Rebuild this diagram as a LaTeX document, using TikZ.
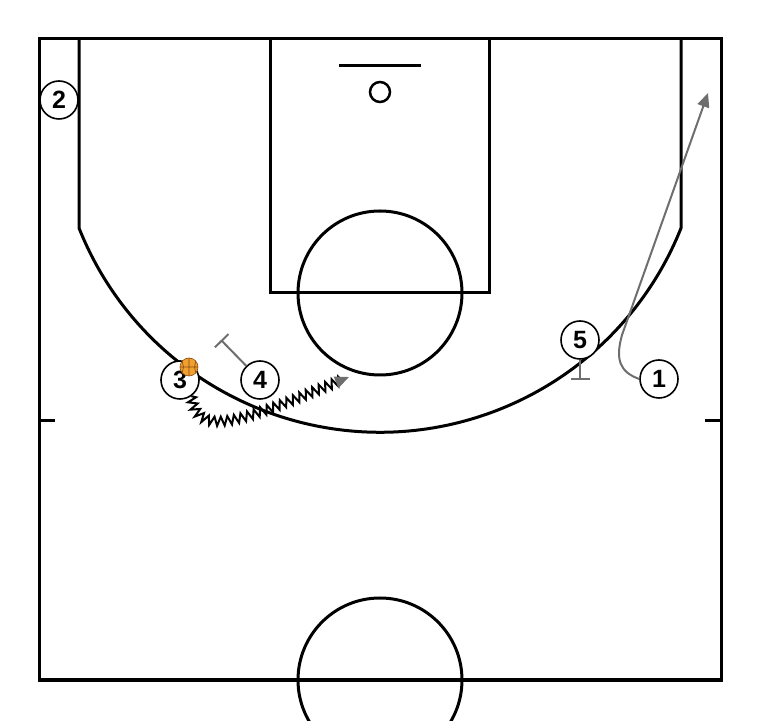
\documentclass[tikz,border=0pt]{standalone}
\usepackage{fontspec}
\setmainfont{Liberation Sans}
\usetikzlibrary{arrows.meta,decorations.pathmorphing}
\definecolor{pathgray}{HTML}{6E6E6E}
\definecolor{ballorange}{HTML}{F0A030}
\definecolor{ballseam}{HTML}{8A4A10}
\tikzset{
	court/.style={line width=3pt},
	player/.style={circle,draw,line width=1.6pt,fill=white,minimum size=38pt,inner sep=0pt,font=\bfseries\fontsize{25}{25}\selectfont},
	move/.style={draw=pathgray,line width=2pt,-{Triangle[length=14pt,width=12pt]}},
	screen/.style={draw=pathgray,line width=2pt,-{Bar[width=19pt,line width=2pt]}},
	dribble/.style={line width=2pt,decorate,decoration={zigzag,amplitude=4.5pt,segment length=7pt,post=lineto,post length=8pt},-{Triangle[length=14pt,width=12pt,color=pathgray]}},
	ball/.style={circle,draw=ballseam,fill=ballorange,minimum size=18pt,inner sep=0pt,line width=0.6pt,
		path picture={\draw[ballseam,line width=0.7pt] (path picture bounding box.north) -- (path picture bounding box.south)
			(path picture bounding box.north west) to[bend left=40] (path picture bounding box.south west)
			(path picture bounding box.north east) to[bend right=40] (path picture bounding box.south east)
			(path picture bounding box.west) -- (path picture bounding box.east);}}
}
\begin{document}
\begin{tikzpicture}[x=1pt,y=1pt]
	\clip (0,0) rectangle (760,720);
	% court
	\draw[court] (39,40) rectangle (721,681);
	\draw[court] (79,681) -- (79,492) arc[start angle=201.7,end angle=338.3,radius=324] -- (681,681);
	\draw[court] (270,681) rectangle (489,427);
	\draw[court] (380,427) circle (82);
	\draw[court] (339,654) -- (421,654);
	\draw[line width=2.5pt] (380,628) circle (10);
	\draw[court] (39,299) -- (55,299);
	\draw[court] (705,299) -- (721,299);
	\draw[court] (380,40) circle (82);
	% players
	\node[player] (p1) at (659,341) {1};
	\node[player] (p2) at (59,620) {2};
	\node[player] (p3) at (180,340) {3};
	\node[player] (p4) at (260,340) {4};
	\node[player] (p5) at (580,380) {5};
	\node[ball] (ball) at (189,353) {};
	% screens
	\coordinate (s4) at (221,380);
	\coordinate (s5) at (580,340);
	\draw[screen] (p4) -- (s4);
	\draw[screen] (p5) -- (s5);
	% cut of 1
	\coordinate (c1) at (708,627);
	\draw[move] (p1.west) .. controls (620,348) and (615,360) .. (622,385) -- (c1);
	% dribble of 3
	\coordinate (d3) at (349,343);
	\draw[dribble] (p3.-55) .. controls (198,280) and (240,298) .. (d3);
\end{tikzpicture}
\end{document}
